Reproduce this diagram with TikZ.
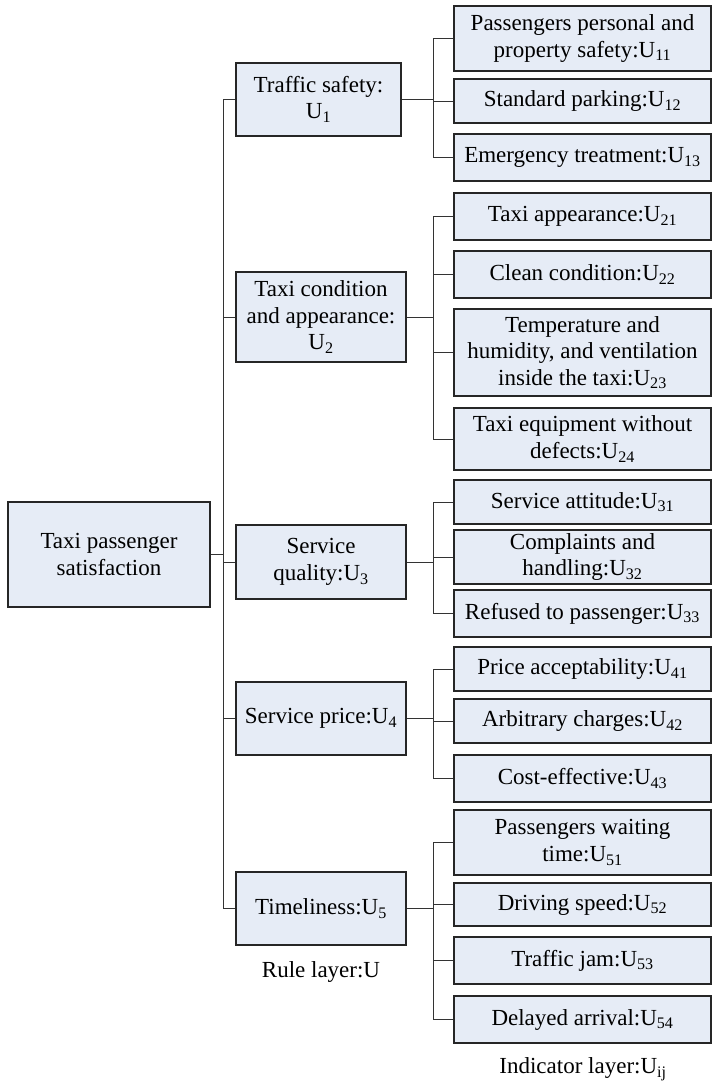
\documentclass[tikz,border=0pt]{standalone}
\usepackage{fontspec}
\setmainfont{Liberation Serif}
\definecolor{boxfill}{RGB}{230,236,246}
\begin{document}
\begin{tikzpicture}[x=1pt,y=-1pt,
    box/.style={draw=black!85,line width=1.1pt,fill=boxfill,inner sep=0pt,
      align=center,font=\fontsize{23}{26.5}\selectfont},
    rule/.style={box,minimum width=170pt,minimum height=73pt},
    ind/.style={box,minimum width=257pt},
    link/.style={draw=black!80,line width=1pt},
    elbow/.style={to path={|- (\tikztotarget)}}]
    \useasboundingbox (0,0) rectangle (712,1085);
    % goal
    \node[box,minimum width=202pt,minimum height=105pt] (root) at (109,554.5) {Taxi passenger\\satisfaction};
    % rule layer
    \node[rule,minimum width=165pt] (U1) at (318.5,99.5) {Traffic safety:\\U\textsubscript{1}};
    \node[rule,minimum height=90pt] (U2) at (321,317) {Taxi condition\\and appearance:\\U\textsubscript{2}};
    \node[rule,minimum height=74pt] (U3) at (321,562) {Service\\quality:U\textsubscript{3}};
    \node[rule] (U4) at (321,718.5) {Service price:U\textsubscript{4}};
    \node[rule] (U5) at (321,908.5) {Timeliness:U\textsubscript{5}};
    % indicator layer
    \node[ind,minimum height=65pt] (U11) at (582.5,38.5) {Passengers personal and\\property safety:U\textsubscript{11}};
    \node[ind,minimum height=44pt] (U12) at (582.5,101) {Standard parking:U\textsubscript{12}};
    \node[ind,minimum height=47pt] (U13) at (582.5,157.5) {Emergency treatment:U\textsubscript{13}};
    \node[ind,minimum height=47pt] (U21) at (582.5,216.5) {Taxi appearance:U\textsubscript{21}};
    \node[ind,minimum height=47pt] (U22) at (582.5,274.5) {Clean condition:U\textsubscript{22}};
    \node[ind,minimum height=87pt] (U23) at (582.5,352.5) {Temperature and\\humidity, and ventilation\\inside the taxi:U\textsubscript{23}};
    \node[ind,minimum height=62pt] (U24) at (582.5,439) {Taxi equipment without\\defects:U\textsubscript{24}};
    \node[ind,minimum height=44pt] (U31) at (582.5,502) {Service attitude:U\textsubscript{31}};
    \node[ind,minimum height=54pt] (U32) at (582.5,557) {Complaints and\\handling:U\textsubscript{32}};
    \node[ind,minimum height=47pt] (U33) at (582.5,613.5) {Refused to passenger:U\textsubscript{33}};
    \node[ind,minimum height=44pt] (U41) at (582.5,669) {Price acceptability:U\textsubscript{41}};
    \node[ind,minimum height=44pt] (U42) at (582.5,721) {Arbitrary charges:U\textsubscript{42}};
    \node[ind,minimum height=47pt] (U43) at (582.5,778.5) {Cost-effective:U\textsubscript{43}};
    \node[ind,minimum height=65pt] (U51) at (582.5,842.5) {Passengers waiting\\time:U\textsubscript{51}};
    \node[ind,minimum height=43pt] (U52) at (582.5,904.5) {Driving speed:U\textsubscript{52}};
    \node[ind,minimum height=47pt] (U53) at (582.5,960.5) {Traffic jam:U\textsubscript{53}};
    \node[ind,minimum height=47pt] (U54) at (582.5,1019.5) {Delayed arrival:U\textsubscript{54}};
    % layer names
    \node[font=\fontsize{23}{26.5}\selectfont] (ruleL) at (321,972) {Rule layer:U};
    \node[font=\fontsize{23}{26.5}\selectfont] (indL) at (583,1069) {Indicator layer:U\textsubscript{ij}};
    % connectors
    \coordinate (trunk) at (223,554.5);
    \coordinate (bus) at (433,0);
    \coordinate (b1) at (U1.east -| bus);
    \coordinate (b2) at (U2.east -| bus);
    \coordinate (b3) at (U3.east -| bus);
    \coordinate (b4) at (U4.east -| bus);
    \coordinate (b5) at (U5.east -| bus);
    \draw[link] (root.east) -- (trunk) edge[elbow] (U1.west) edge[elbow] (U2.west) edge[elbow] (U3.west)
      edge[elbow] (U4.west) edge[elbow] (U5.west);
    \draw[link] (U1.east) -- (b1) edge[elbow] (U11.west) edge[elbow] (U12.west) edge[elbow] (U13.west);
    \draw[link] (U2.east) -- (b2) edge[elbow] (U21.west) edge[elbow] (U22.west) edge[elbow] (U23.west)
      edge[elbow] (U24.west);
    \draw[link] (U3.east) -- (b3) edge[elbow] (U31.west) edge[elbow] (U32.west) edge[elbow] (U33.west);
    \draw[link] (U4.east) -- (b4) edge[elbow] (U41.west) edge[elbow] (U42.west) edge[elbow] (U43.west);
    \draw[link] (U5.east) -- (b5) edge[elbow] (U51.west) edge[elbow] (U52.west) edge[elbow] (U53.west)
      edge[elbow] (U54.west);
\end{tikzpicture}
\end{document}
